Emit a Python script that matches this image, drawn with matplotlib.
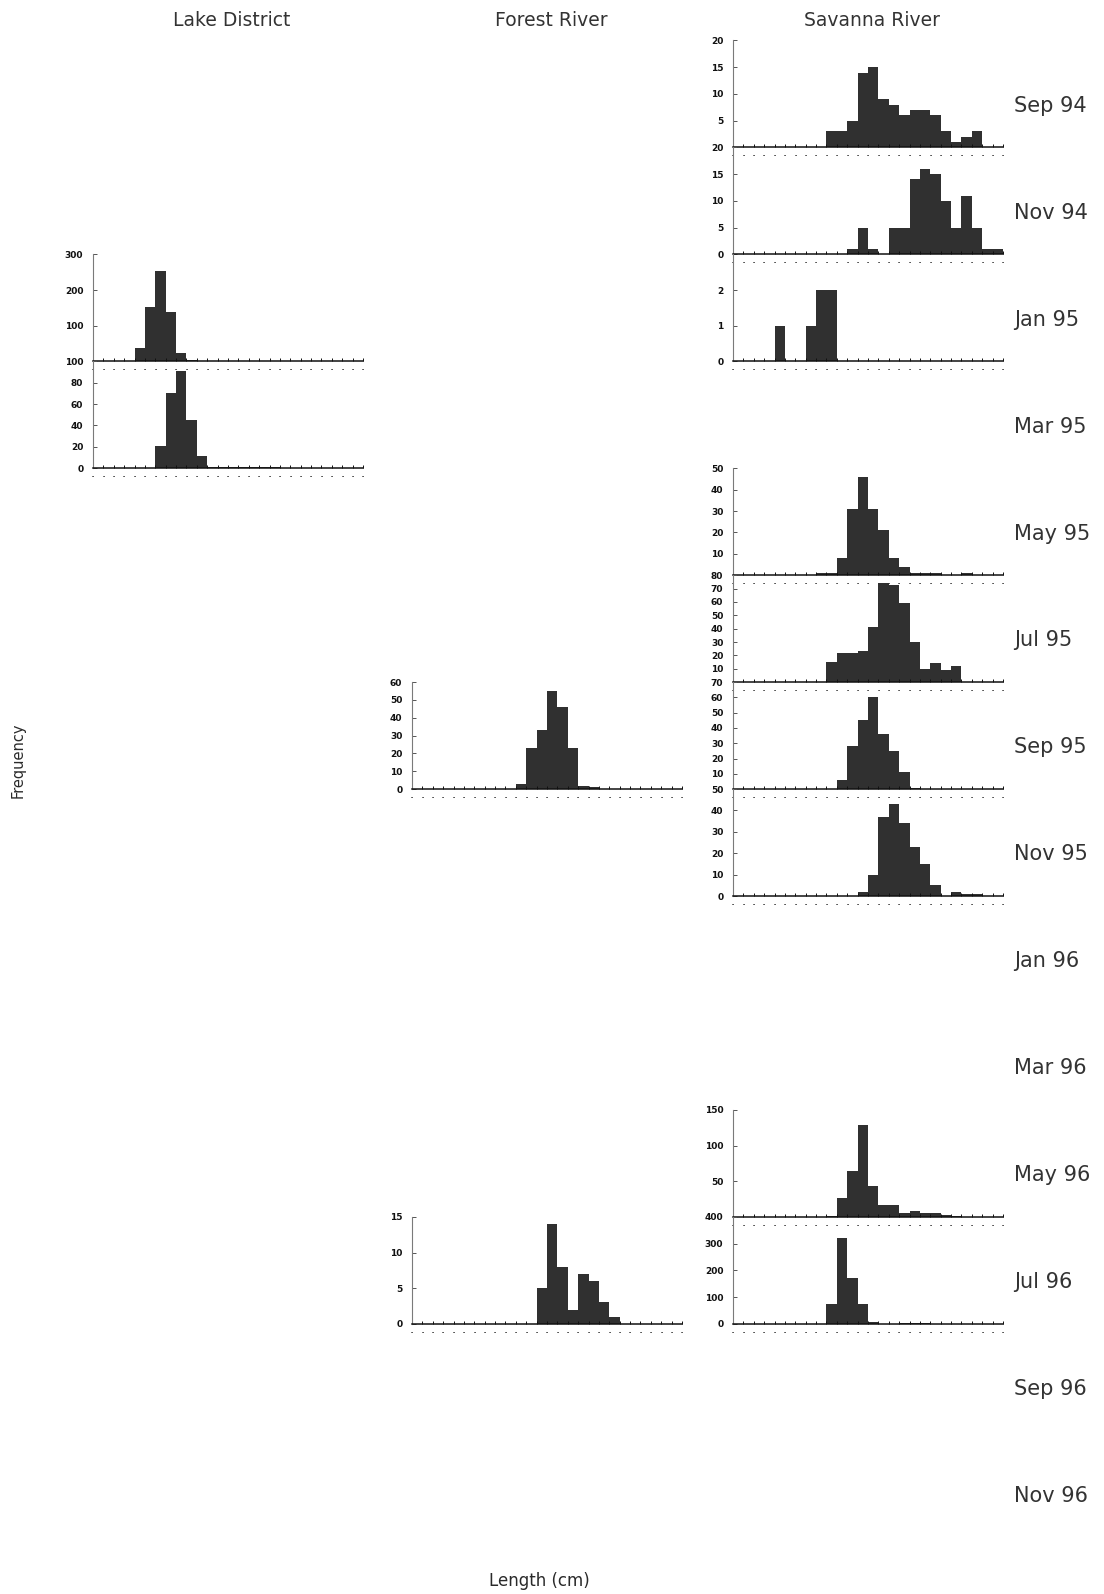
import numpy as np
import matplotlib
matplotlib.use("Agg")
import matplotlib.pyplot as plt

# ---- data -------------------------------------------------------------
columns = ["Lake District", "Forest River", "Savanna River"]
months = ["Sep 94", "Nov 94", "Jan 95", "Mar 95", "May 95", "Jul 95", "Sep 95",
          "Nov 95", "Jan 96", "Mar 96", "May 96", "Jul 96", "Sep 96", "Nov 96"]
n_bins = 26

# Length-class frequencies (26 classes per histogram)
lake_jan95 = [0, 2, 0, 2, 37, 152, 252, 138, 22, 3, 1, 0, 0, 0, 0, 0, 0, 0, 0, 0, 0, 0, 0, 0, 0, 0]
lake_mar95 = [0, 0, 0, 0, 0, 0, 21, 70, 91, 45, 11, 1, 1, 1, 1, 1, 1, 1, 0, 0, 0, 0, 0, 0, 0, 0]
forest_sep95 = [0, 0, 0, 0, 0, 0, 0, 0, 0, 0, 3, 23, 33, 55, 46, 23, 2, 1, 0, 0, 0, 0, 0, 0, 0, 0]
forest_jul96 = [0, 0, 0, 0, 0, 0, 0, 0, 0, 0, 0, 0, 5, 14, 8, 2, 7, 6, 3, 1, 0, 0, 0, 0, 0, 0]
savanna_sep94 = [0, 0, 0, 0, 0, 0, 0, 0, 0, 3, 3, 5, 14, 15, 9, 8, 6, 7, 7, 6, 3, 1, 2, 3, 0, 0]
savanna_nov94 = [0, 0, 0, 0, 0, 0, 0, 0, 0, 0, 0, 1, 5, 1, 0, 5, 5, 14, 16, 15, 10, 5, 11, 5, 1, 1]
savanna_jan95 = [0, 0, 0, 0, 1, 0, 0, 1, 2, 2, 0, 0, 0, 0, 0, 0, 0, 0, 0, 0, 0, 0, 0, 0, 0, 0]
savanna_may95 = [0, 0, 0, 0, 0, 0, 0, 0, 1, 1, 8, 31, 46, 31, 21, 8, 4, 1, 1, 1, 0, 0, 1, 0, 0, 0]
savanna_jul95 = [0, 0, 0, 0, 0, 0, 0, 0, 0, 15, 22, 22, 23, 41, 74, 73, 59, 30, 10, 14, 9, 12, 0, 0, 0, 0]
savanna_sep95 = [0, 0, 0, 0, 0, 0, 0, 0, 0, 0, 6, 28, 45, 60, 36, 25, 11, 1, 0, 0, 0, 0, 0, 0, 0, 0]
savanna_nov95 = [0, 0, 0, 0, 0, 0, 0, 0, 0, 0, 0, 0, 2, 10, 37, 43, 34, 23, 15, 5, 0, 2, 1, 1, 0, 0]
savanna_may96 = [0, 0, 0, 0, 0, 0, 0, 0, 0, 1, 26, 64, 129, 44, 16, 16, 5, 8, 5, 5, 2, 1, 0, 0, 0, 0]
savanna_jul96 = [0, 0, 0, 0, 0, 0, 0, 0, 0, 75, 322, 172, 75, 6, 1, 0, 4, 4, 2, 1, 0, 0, 0, 0, 0, 0]

# y-axis ticks for each histogram
ticks_lake_jan95 = [0, 100, 200, 300]
ticks_lake_mar95 = [0, 20, 40, 60, 80, 100]
ticks_forest_sep95 = [0, 10, 20, 30, 40, 50, 60]
ticks_forest_jul96 = [0, 5, 10, 15]
ticks_savanna_sep94 = [0, 5, 10, 15, 20]
ticks_savanna_nov94 = [0, 5, 10, 15, 20]
ticks_savanna_jan95 = [0, 1, 2]
ticks_savanna_may95 = [0, 10, 20, 30, 40, 50]
ticks_savanna_jul95 = [0, 10, 20, 30, 40, 50, 60, 70, 80]
ticks_savanna_sep95 = [0, 10, 20, 30, 40, 50, 60, 70]
ticks_savanna_nov95 = [0, 10, 20, 30, 40, 50]
ticks_savanna_may96 = [0, 50, 100, 150]
ticks_savanna_jul96 = [0, 100, 200, 300, 400]

# (column, month, counts, yticks, ymax)
panels = [
    (0, "Jan 95", lake_jan95, ticks_lake_jan95, 300),
    (0, "Mar 95", lake_mar95, ticks_lake_mar95, 100),
    (1, "Sep 95", forest_sep95, ticks_forest_sep95, 60),
    (1, "Jul 96", forest_jul96, ticks_forest_jul96, 15),
    (2, "Sep 94", savanna_sep94, ticks_savanna_sep94, 20),
    (2, "Nov 94", savanna_nov94, ticks_savanna_nov94, 20),
    (2, "Jan 95", savanna_jan95, ticks_savanna_jan95, 3),
    (2, "May 95", savanna_may95, ticks_savanna_may95, 50),
    (2, "Jul 95", savanna_jul95, ticks_savanna_jul95, 80),
    (2, "Sep 95", savanna_sep95, ticks_savanna_sep95, 70),
    (2, "Nov 95", savanna_nov95, ticks_savanna_nov95, 50),
    (2, "May 96", savanna_may96, ticks_savanna_may96, 150),
    (2, "Jul 96", savanna_jul96, ticks_savanna_jul96, 400),
]

# ---- layout (pixels) ----------------------------------------------------
W, H = 1104, 1594
col_left = [93, 412, 733]
panel_w = 270
row_h = 106.95
first_base = 147.4

BAR = "#303030"
TXT = "#2a2a2a"
FONT = "DejaVu Sans"

fig = plt.figure(figsize=(W / 100, H / 100), dpi=100)
fig.patch.set_facecolor("white")

# which (column, row) slots hold a histogram, and their ticks / axis top
occupied = {(c, months.index(m)): (ticks, ymax) for c, m, _, ticks, ymax in panels}

for col, month, counts, ticks, ymax in panels:
    row = months.index(month)
    base = first_base + row * row_h
    ax = fig.add_axes([col_left[col] / W, 1 - base / H, panel_w / W, row_h / H])
    ax.patch.set_alpha(0)

    ax.bar(np.arange(n_bins), counts, width=1.0, align="edge",
           color=BAR, linewidth=0)
    ax.set_xlim(0, n_bins)
    ax.set_ylim(0, ymax)

    # the zero label is covered by the top label of the panel stacked below
    below = occupied.get((col, row + 1))
    labels = [str(t) for t in ticks]
    if below is not None and below[1] in below[0]:
        labels[0] = ""
    ax.set_yticks(ticks)
    ax.set_yticklabels(labels)
    ax.tick_params(axis="y", direction="in", length=3, width=0.7, color="#555",
                   pad=7, labelsize=6.5, labelcolor="#111")
    for lab in ax.get_yticklabels():
        lab.set_fontweight("bold")
        lab.set_family(FONT)

    ax.set_xticks(np.arange(n_bins + 1))
    ax.set_xticklabels(["\u00b7"] * (n_bins + 1))
    ax.tick_params(axis="x", direction="in", length=2.5, width=0.7, color="#111",
                   pad=2, labelsize=9.5, labelcolor="#1a1a1a")

    for side in ("top", "right"):
        ax.spines[side].set_visible(False)
    ax.spines["left"].set_color("#7a7a7a")
    ax.spines["left"].set_linewidth(0.8)
    ax.spines["bottom"].set_color("#111")
    ax.spines["bottom"].set_linewidth(1.1)

# column headings
for c, name in enumerate(columns):
    fig.text((col_left[c] + panel_w / 2 + 4) / W, 1 - 20 / H, name,
             ha="center", va="center", fontsize=13.5, family=FONT, color="#333")

# month labels on the right
for i, m in enumerate(months):
    y = 105.7 + i * row_h
    fig.text(1014 / W, 1 - y / H, m, ha="left", va="center",
             fontsize=15, family=FONT, color="#333")

fig.text(18 / W, 1 - 760 / H, "Frequency", rotation=90, ha="center", va="center",
         fontsize=10.5, family=FONT, color=TXT)
fig.text(539 / W, 1 - 1581 / H, "Length (cm)", ha="center", va="center",
         fontsize=12, family=FONT, color=TXT)

fig.savefig("out.png", dpi=100, facecolor="white")
